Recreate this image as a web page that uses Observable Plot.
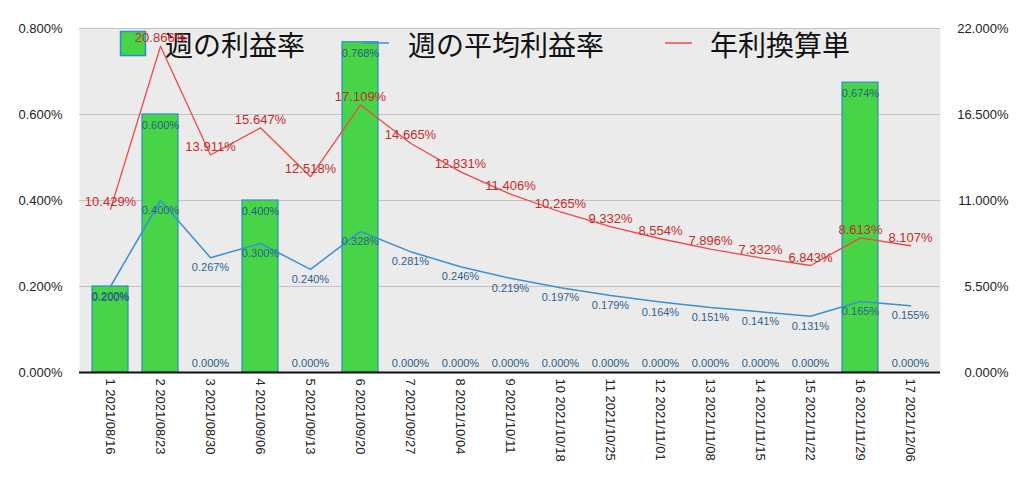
<!DOCTYPE html>
<html><head><meta charset="utf-8">
<script src="https://cdn.jsdelivr.net/npm/d3@7"></script>
<script src="https://cdn.jsdelivr.net/npm/@observablehq/plot@0.6"></script>
<style>
body{margin:0;background:#fff}
#wrap{position:relative;width:1024px;height:493px}
</style>
</head><body><div id="wrap"></div>
<script>
const weeks = ["1 2021/08/16","2 2021/08/23","3 2021/08/30","4 2021/09/06","5 2021/09/13","6 2021/09/20","7 2021/09/27","8 2021/10/04","9 2021/10/11","10 2021/10/18","11 2021/10/25","12 2021/11/01","13 2021/11/08","14 2021/11/15","15 2021/11/22","16 2021/11/29","17 2021/12/06"];
const weeklyRate = [0.200,0.600,0,0.400,0,0.768,0,0,0,0,0,0,0,0,0,0.674,0];
const avgRate = [0.200,0.400,0.267,0.300,0.240,0.328,0.281,0.246,0.219,0.197,0.179,0.164,0.151,0.141,0.131,0.165,0.155];
const annualRate = [10.429,20.866,13.911,15.647,12.518,17.109,14.665,12.831,11.406,10.265,9.332,8.554,7.896,7.332,6.843,8.613,8.107];
const leftTicks = [0,0.2,0.4,0.6,0.8];
const rightTicks = [0,5.5,11,16.5,22];
const legendLabels = ["週の利益率","週の平均利益率","年利換算単"];

const ratio = 22/0.8;
const fmt = v => v.toFixed(3) + "%";
const rows = weeks.map((w,i)=>({w, bar: weeklyRate[i], avg: avgRate[i], ann: annualRate[i], annY: annualRate[i]/ratio}));
const rightRows = rightTicks.map(t=>({t, y: t/ratio}));

const chart = Plot.plot({
  width: 1024, height: 493,
  marginTop: 28, marginBottom: 121, marginLeft: 79, marginRight: 84,
  style: {fontFamily: "'Liberation Sans', Arial, sans-serif", fontSize: "13px", background: "white", color: "#222"},
  x: {type: "band", domain: weeks, paddingInner: 0.29, paddingOuter: 0.145, label: null},
  y: {domain: [0, 0.8], label: null},
  marks: [
    Plot.frame({fill: "#ebebeb", stroke: null}),
    Plot.gridY(leftTicks, {stroke: "#c2c2c2", strokeOpacity: 1, strokeWidth: 1}),
    Plot.barY(rows, {x: "w", y: "bar", fill: "#47d447", stroke: "#2b8fc6", strokeWidth: 1.2}),
    Plot.ruleY([0], {stroke: "#111", strokeWidth: 2}),
    Plot.line(rows, {x: "w", y: "avg", stroke: "#3b8fd2", strokeWidth: 1.5}),
    Plot.line(rows, {x: "w", y: "annY", stroke: "#ee4848", strokeWidth: 1.3}),
    Plot.text(rows.filter(d=>d.bar>0), {x: "w", y: "bar", text: d=>fmt(d.bar), dy: 11, fill: "#2a5a85", fontSize: 11}),
    Plot.text(rows.filter(d=>d.bar===0), {x: "w", y: "bar", text: d=>fmt(d.bar), dy: -9, fill: "#2a5a85", fontSize: 11}),
    Plot.text(rows, {x: "w", y: "avg", text: d=>fmt(d.avg), dy: 10, fill: "#2d5f8f", fontSize: 11}),
    Plot.text(rows, {x: "w", y: "annY", text: d=>fmt(d.ann), dy: -8, fill: "#c62a2a", fontSize: 13}),
    Plot.axisY(leftTicks, {anchor: "left", tickSize: 0, tickPadding: 17, tickFormat: fmt, fontSize: 13, label: null}),
    Plot.text(rightRows, {y: "y", frameAnchor: "right", dx: 68, textAnchor: "end", text: d=>fmt(d.t), fontSize: 13, fill: "#222"}),
    Plot.axisX({anchor: "bottom", tickSize: 0, tickPadding: 6, tickRotate: 90, fontSize: 13, label: null})
  ]
});
const wrap = document.getElementById("wrap");
wrap.appendChild(chart);

// Legend drawn inside the SVG, beneath the annual-rate labels (as in the reference)
const svg = d3.select(chart.tagName.toLowerCase() === "svg" ? chart : chart.querySelector("svg"));
const textGroups = svg.selectAll(':scope > g[aria-label="text"]').nodes();
const before = textGroups[3] || null;
const lg = svg.insert("g", () => before).attr("aria-label", "legend")
  .attr("text-anchor", "start")
  .style("font-family", "'Noto Sans CJK JP', sans-serif").style("font-size", "28px");
lg.append("rect").attr("x", 120.5).attr("y", 31.5).attr("width", 25).attr("height", 24)
  .attr("fill", "#47d447").attr("stroke", "#2b8fc6").attr("stroke-width", 1.5);
lg.append("line").attr("x1", 363).attr("x2", 389).attr("y1", 43).attr("y2", 43)
  .attr("stroke", "#3b8fd2").attr("stroke-width", 1.5);
lg.append("line").attr("x1", 665).attr("x2", 692).attr("y1", 43).attr("y2", 43)
  .attr("stroke", "#ee4848").attr("stroke-width", 1.5);
[[165, legendLabels[0]], [408, legendLabels[1]], [710, legendLabels[2]]].forEach(([x, t]) => {
  lg.append("text").attr("x", x).attr("y", 46).attr("dy", "0.35em")
    .attr("text-anchor", "start").attr("fill", "#111").text(t);
});
</script>
</body></html>
